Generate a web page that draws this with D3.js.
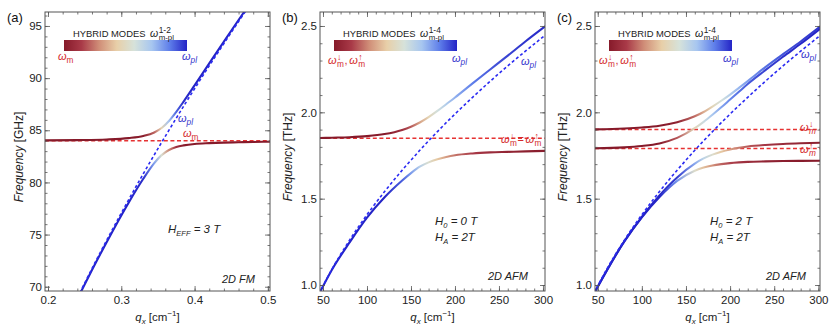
<!DOCTYPE html>
<html>
<head>
<meta charset="utf-8">
<script src="https://cdn.jsdelivr.net/npm/d3@7"></script>
<style>
  body { margin: 0; background: #fff; }
  svg text { font-family: "Liberation Sans", Arial, Helvetica, sans-serif; }
</style>
</head>
<body>
<svg id="chart" width="830" height="329"></svg>
<script>
// ---- data ----
// (a) 2D FM, GHz
var qA_pl = [0.24, 0.27, 0.30, 0.33, 0.36, 0.39, 0.42, 0.45, 0.48];
var fA_pl = [68.93, 73.11, 77.06, 80.83, 84.42, 87.87, 91.18, 94.38, 97.48];
var qA_up = [0.196, 0.24, 0.28, 0.31, 0.33, 0.345, 0.355, 0.365, 0.375, 0.385, 0.40, 0.42, 0.44, 0.46, 0.48];
var fA_up = [84.03, 84.06, 84.12, 84.25, 84.45, 84.79, 85.22, 85.89, 86.77, 87.75, 89.3, 91.41, 93.5, 95.57, 97.6];
var mA_up = [0.004, 0.007, 0.017, 0.045, 0.113, 0.27, 0.47, 0.68, 0.82, 0.89, 0.94, 0.97, 0.98, 0.99, 0.99];
var qA_lo = [0.244, 0.26, 0.28, 0.31, 0.33, 0.345, 0.355, 0.365, 0.375, 0.385, 0.40, 0.42, 0.44, 0.46, 0.48, 0.503];
var fA_lo = [69.38, 71.6, 74.27, 78.06, 80.35, 81.85, 82.62, 83.11, 83.39, 83.55, 83.69, 83.77, 83.82, 83.85, 83.88, 83.9];
var mA_lo = [0.99, 0.99, 0.983, 0.955, 0.887, 0.73, 0.53, 0.32, 0.18, 0.11, 0.06, 0.03, 0.02, 0.01, 0.01, 0.01];
var fA_m = [84.0];

// (b) 2D AFM, H0 = 0 T, THz
var qB = [46, 60, 80, 100, 120, 140, 150, 160, 170, 180, 190, 200, 220, 240, 260, 280, 302];
var fB_pl = [0.954, 1.09, 1.258, 1.407, 1.541, 1.665, 1.723, 1.78, 1.835, 1.888, 1.94, 1.99, 2.087, 2.18, 2.269, 2.354, 2.445];
var fB_up = [1.851, 1.853, 1.856, 1.862, 1.874, 1.898, 1.917, 1.941, 1.972, 2.008, 2.047, 2.086, 2.168, 2.248, 2.328, 2.41, 2.496];
var fB_lo = [0.953, 1.087, 1.245, 1.39, 1.508, 1.605, 1.648, 1.685, 1.71, 1.728, 1.741, 1.751, 1.762, 1.768, 1.771, 1.774, 1.777];
var mB_up = [0.002, 0.004, 0.01, 0.028, 0.071, 0.174, 0.259, 0.363, 0.47, 0.568, 0.647, 0.707, 0.787, 0.833, 0.861, 0.88, 0.894];
var mB_lo = [0.998, 0.996, 0.99, 0.972, 0.929, 0.826, 0.741, 0.637, 0.53, 0.432, 0.353, 0.293, 0.213, 0.167, 0.139, 0.12, 0.106];
var fB_m = [1.85];

// (c) 2D AFM, H0 = 2 T, THz
var qC = [46, 80, 100, 120, 140, 160, 170, 180, 190, 200, 210, 220, 240, 260, 280, 302];
var fC_1 = [1.901, 1.906, 1.912, 1.922, 1.942, 1.977, 2.002, 2.033, 2.067, 2.103, 2.142, 2.181, 2.262, 2.337, 2.41, 2.496];
var fC_2 = [1.792, 1.797, 1.805, 1.82, 1.852, 1.908, 1.945, 1.986, 2.029, 2.074, 2.119, 2.164, 2.244, 2.322, 2.397, 2.484];
var fC_3 = [0.953, 1.252, 1.395, 1.519, 1.623, 1.703, 1.733, 1.755, 1.772, 1.785, 1.795, 1.802, 1.811, 1.817, 1.821, 1.824];
var fC_4 = [0.953, 1.251, 1.392, 1.51, 1.603, 1.662, 1.68, 1.692, 1.70, 1.706, 1.71, 1.713, 1.716, 1.718, 1.719, 1.72];
var mC_1 = [0.001, 0.009, 0.023, 0.055, 0.131, 0.281, 0.38, 0.478, 0.568, 0.64, 0.697, 0.742, 0.802, 0.839, 0.862, 0.88];
var mC_2 = [0.002, 0.013, 0.036, 0.098, 0.249, 0.48, 0.585, 0.667, 0.728, 0.772, 0.805, 0.83, 0.863, 0.884, 0.897, 0.908];
var mC_3 = [0.999, 0.991, 0.977, 0.945, 0.869, 0.719, 0.62, 0.522, 0.432, 0.36, 0.303, 0.258, 0.198, 0.161, 0.138, 0.12];
var mC_4 = [0.998, 0.987, 0.964, 0.902, 0.751, 0.52, 0.415, 0.333, 0.272, 0.228, 0.195, 0.17, 0.137, 0.116, 0.103, 0.092];
var fC_m = [1.90, 1.79];

// tick labels
var ticksAx = [0.2, 0.3, 0.4, 0.5];
var ticksAy = [70, 75, 80, 85, 90, 95];
var ticksBx = [50, 100, 150, 200, 250, 300];
var ticksBy = [1.0, 1.5, 2.0, 2.5];

// ---- drawing ----
var svg = d3.select("#chart");
var defs = svg.append("defs");
var TOP = 12, BOTTOM = 291;
var RED = "#d42a2c", BLUE = "#3434cc", DASHRED = "#e63232", DASHBLUE = "#2a2af2";
var FRAME = "#555";

var cmap = ["#861a2a", "#a93a48", "#d08e78", "#e8cfa8", "#d6e2da", "#a7c6f0", "#5f7fea", "#2424c6"];
var mixColor = d3.scaleLinear()
    .domain(cmap.map(function (c, i) { return 0.1 + 0.8 * i / (cmap.length - 1); }))
    .range(cmap)
    .clamp(true);

// colorbar gradient
var cbGrad = defs.append("linearGradient").attr("id", "cbar");
cbGrad.selectAll("stop").data(cmap).enter().append("stop")
    .attr("offset", function (d, i) { return i / (cmap.length - 1); })
    .attr("stop-color", function (d) { return d; });

function txt(x, y, size, color, italic) {
    return svg.append("text")
        .attr("x", x).attr("y", y)
        .attr("font-size", size)
        .attr("fill", color)
        .attr("font-style", italic ? "italic" : "normal");
}

// omega with optional stacked sup/sub, returns right edge x
function omega(x, y, size, color, sub, sup, subItalic) {
    var t = txt(x, y, size, color, true);
    t.append("tspan").text("\u03c9");
    if (sup) {
        var s = t.append("tspan").attr("font-size", size * 0.8).attr("font-style", "normal")
            .attr("dx", 0.5).attr("dy", -size * 0.4).text(sup);
        var w = s.node().getComputedTextLength();
        t.append("tspan").attr("font-size", size * 0.75).attr("font-style", subItalic ? "italic" : "normal")
            .attr("dx", -w).attr("dy", size * 0.7).text(sub);
    } else {
        t.append("tspan").attr("font-size", size * 0.75).attr("font-style", subItalic ? "italic" : "normal")
            .attr("dy", size * 0.28).text(sub);
    }
    var b = t.node().getBBox();
    return b.x + b.width;
}

// "w(down)m <sep> w(up)m"
function omegaPair(x, y, size, color, sep, gap) {
    var e = omega(x, y, size, color, "m", "\u2193", false);
    var s = txt(e + gap, y, size, color, false).text(sep);
    var e2 = s.node().getBBox();
    omega(e2.x + e2.width + gap + 1, y, size, color, "m", "\u2191", false);
}

function panel(p) {
    var sx = d3.scaleLinear().domain(p.xd).range([p.left, p.right]);
    var sy = d3.scaleLinear().domain(p.yd).range([BOTTOM, TOP]);
    var g = svg.append("g");

    defs.append("clipPath").attr("id", "clip-" + p.id).append("rect")
        .attr("x", p.left).attr("y", TOP)
        .attr("width", p.right - p.left).attr("height", BOTTOM - TOP);
    var plot = g.append("g").attr("clip-path", "url(#clip-" + p.id + ")");

    // red dashed magnon levels
    p.mLevels.forEach(function (m) {
        plot.append("line")
            .attr("x1", p.left).attr("x2", p.right)
            .attr("y1", sy(m)).attr("y2", sy(m))
            .attr("stroke", DASHRED).attr("stroke-width", 1.5)
            .attr("stroke-dasharray", "4,2.6");
    });

    var line = d3.line()
        .x(function (d) { return sx(d[0]); })
        .y(function (d) { return sy(d[1]); })
        .curve(d3.curveMonotoneX);

    // hybrid modes, coloured by plasmon fraction
    p.curves.forEach(function (c, k) {
        var pts = c.q.map(function (q, i) { return [q, c.f[i], c.mix[i]]; });
        var x0 = sx(c.q[0]), x1 = sx(c.q[c.q.length - 1]);
        var gid = "grad-" + p.id + "-" + k;
        var grad = defs.append("linearGradient").attr("id", gid)
            .attr("gradientUnits", "userSpaceOnUse")
            .attr("x1", x0).attr("x2", x1).attr("y1", 0).attr("y2", 0);
        grad.selectAll("stop").data(pts).enter().append("stop")
            .attr("offset", function (d) { return (sx(d[0]) - x0) / (x1 - x0); })
            .attr("stop-color", function (d) { return mixColor(d[2]); });
        plot.append("path").datum(pts)
            .attr("d", line)
            .attr("fill", "none")
            .attr("stroke", "url(#" + gid + ")")
            .attr("stroke-width", 2.1)
            .attr("stroke-linecap", "round");
    });

    // bare plasmon, blue dashed
    plot.append("path").datum(p.pl.q.map(function (q, i) { return [q, p.pl.f[i]]; }))
        .attr("d", line)
        .attr("fill", "none")
        .attr("stroke", DASHBLUE).attr("stroke-width", 1.6)
        .attr("stroke-dasharray", "3,2.4");

    // axes, ticks inside on all four sides
    function ax(axis, vals, size, fmt, tr) {
        var a = g.append("g").attr("transform", tr)
            .call(axis.tickValues(vals).tickSizeInner(size).tickSizeOuter(0).tickPadding(3).tickFormat(fmt));
        a.select(".domain").remove();
        a.selectAll("line").attr("stroke", FRAME).attr("stroke-width", 0.8);
        a.selectAll("text").attr("font-size", 11.5).attr("fill", "#222")
            .attr("font-family", "Liberation Sans, Arial, sans-serif");
        return a;
    }
    var none = function () { return ""; };
    ax(d3.axisBottom(sx), p.xt, -5, p.xf, "translate(0," + BOTTOM + ")").selectAll("text").attr("dy", "0.85em");
    ax(d3.axisTop(sx), p.xt, -5, none, "translate(0," + TOP + ")");
    ax(d3.axisLeft(sy), p.yt, -5, p.yf, "translate(" + p.left + ",0)");
    ax(d3.axisRight(sy), p.yt, -5, none, "translate(" + p.right + ",0)");
    ax(d3.axisBottom(sx), p.xm, -2.5, none, "translate(0," + BOTTOM + ")");
    ax(d3.axisTop(sx), p.xm, -2.5, none, "translate(0," + TOP + ")");
    ax(d3.axisLeft(sy), p.ym, -2.5, none, "translate(" + p.left + ",0)");
    ax(d3.axisRight(sy), p.ym, -2.5, none, "translate(" + p.right + ",0)");

    g.append("rect")
        .attr("x", p.left).attr("y", TOP)
        .attr("width", p.right - p.left).attr("height", BOTTOM - TOP)
        .attr("fill", "none").attr("stroke", FRAME).attr("stroke-width", 1);

    // panel letter
    txt(p.left - 38, 22, 13, "#111", false).text(p.letter);

    // y label
    var yl = svg.append("text")
        .attr("transform", "translate(" + p.ylx + ",157) rotate(-90)")
        .attr("text-anchor", "middle").attr("font-size", 12).attr("fill", "#222");
    yl.append("tspan").attr("font-style", "italic").text("Frequency");
    yl.append("tspan").text("  [" + p.unit + "]");

    // x label
    var xl = svg.append("text")
        .attr("x", (p.left + p.right) / 2).attr("y", 321)
        .attr("text-anchor", "middle").attr("font-size", 11.5).attr("fill", "#222");
    xl.append("tspan").attr("font-style", "italic").text("q");
    xl.append("tspan").attr("font-style", "italic").attr("font-size", 8).attr("dy", 3).text("x");
    xl.append("tspan").attr("dy", -3).text(" [cm");
    xl.append("tspan").attr("font-size", 8).attr("dy", -5).text("\u22121");
    xl.append("tspan").attr("dy", 5).text("]");

    // colour bar legend
    var cb = p.cbx;
    svg.append("rect").attr("x", cb).attr("y", 40).attr("width", 123).attr("height", 11)
        .attr("fill", "url(#cbar)");
    txt(cb + 9, 37, 9.4, "#222", false).text("HYBRID MODES");
    omega(cb + 86, 37, 10.5, "#222", "m-pl", p.cbSup, false);

    return { sx: sx, sy: sy };
}

// ---- panel (a) ----
panel({
    id: "a", letter: "(a)", left: 45, right: 270,
    xd: [0.1959, 0.5029], yd: [69.59, 96.34],
    xt: ticksAx, yt: ticksAy,
    xm: d3.range(0.2, 0.5001, 0.02), ym: d3.range(70, 96.5, 1),
    xf: d3.format(".1f"), yf: d3.format("d"),
    unit: "GHz", ylx: 23, cbx: 64, cbSup: "1-2",
    mLevels: fA_m,
    pl: { q: qA_pl, f: fA_pl },
    curves: [
        { q: qA_up, f: fA_up, mix: mA_up },
        { q: qA_lo, f: fA_lo, mix: mA_lo }
    ]
});
omega(58, 60, 11, RED, "m", null, false);
omega(182, 60, 11, BLUE, "pl", null, true);
omega(178, 122, 11, BLUE, "pl", null, true);
omega(183, 137, 11, RED, "m", null, false);
(function () {
    var t = txt(168, 233, 11.5, "#222", true);
    t.append("tspan").text("H");
    t.append("tspan").attr("font-size", 7.5).attr("dy", 2.5).text("EFF");
    t.append("tspan").attr("dy", -2.5).text(" = 3 T");
})();
txt(222, 283, 11, "#222", true).text("2D FM");

// ---- panel (b) ----
panel({
    id: "b", letter: "(b)", left: 320, right: 545,
    xd: [46.6, 302.3], yd: [0.9653, 2.581],
    xt: ticksBx, yt: ticksBy,
    xm: d3.range(50, 301, 10), ym: d3.range(1.0, 2.56, 0.1),
    xf: d3.format("d"), yf: d3.format(".1f"),
    unit: "THz", ylx: 292, cbx: 334, cbSup: "1-4",
    mLevels: fB_m,
    pl: { q: qB, f: fB_pl },
    curves: [
        { q: qB, f: fB_up, mix: mB_up },
        { q: qB, f: fB_lo, mix: mB_lo }
    ]
});
omegaPair(328, 64, 11, RED, ",", 0.5);
omega(452, 62, 11, BLUE, "pl", null, true);
omega(521, 65, 11, BLUE, "pl", null, true);
omegaPair(501, 143, 11, RED, "=", 0.5);
(function () {
    [["0", " = 0 T", 225], ["A", " = 2T", 241]].forEach(function (r) {
        var t = txt(435, r[2], 11.5, "#222", true);
        t.append("tspan").text("H");
        t.append("tspan").attr("font-size", 7.5).attr("dy", 2.5).text(r[0]);
        t.append("tspan").attr("dy", -2.5).text(r[1]);
    });
})();
txt(488, 280, 11, "#222", true).text("2D AFM");

// ---- panel (c) ----
panel({
    id: "c", letter: "(c)", left: 595, right: 820,
    xd: [46.9, 301.9], yd: [0.9653, 2.581],
    xt: ticksBx, yt: ticksBy,
    xm: d3.range(50, 301, 10), ym: d3.range(1.0, 2.56, 0.1),
    xf: d3.format("d"), yf: d3.format(".1f"),
    unit: "THz", ylx: 567, cbx: 609, cbSup: "1-4",
    mLevels: fC_m,
    pl: { q: qB, f: fB_pl },
    curves: [
        { q: qC, f: fC_1, mix: mC_1 },
        { q: qC, f: fC_2, mix: mC_2 },
        { q: qC, f: fC_3, mix: mC_3 },
        { q: qC, f: fC_4, mix: mC_4 }
    ]
});
omegaPair(599, 64, 11, RED, ",", 0.5);
omega(723, 62, 11, BLUE, "pl", null, true);
omega(801, 58, 11, BLUE, "pl", null, true);
omega(800, 131, 11, RED, "m", "\u2193", true);
omega(800, 153, 11, RED, "m", "\u2191", true);
(function () {
    [["0", " = 2 T", 225], ["A", " = 2T", 241]].forEach(function (r) {
        var t = txt(710, r[2], 11.5, "#222", true);
        t.append("tspan").text("H");
        t.append("tspan").attr("font-size", 7.5).attr("dy", 2.5).text(r[0]);
        t.append("tspan").attr("dy", -2.5).text(r[1]);
    });
})();
txt(766, 280, 11, "#222", true).text("2D AFM");
</script>
</body>
</html>
